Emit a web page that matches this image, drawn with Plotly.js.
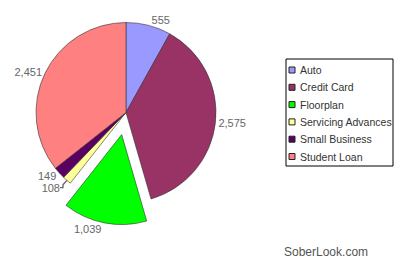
<!DOCTYPE html>
<html><head><meta charset="utf-8">
<script src="https://cdn.plot.ly/plotly-3.0.1.min.js"></script>
<style>body{margin:0;background:#fff}#c{width:400px;height:264px}</style>
</head><body><div id="c"></div>
<script>
const categories = ["Auto", "Credit Card", "Floorplan", "Servicing Advances", "Small Business", "Student Loan"];
const values = [555, 2575, 1039, 108, 149, 2451];
const colors = ["#9999FF", "#993366", "#00FF00", "#FFFF99", "#5A0060", "#FF8080"];
const pulls = [0, 0, 0.25, 0, 0, 0];

const W = 400, H = 264;
const px = x => x / W;
const py = y => 1 - y / H;
const FONT = "Liberation Sans, Arial, sans-serif";

const trace = {
  type: "pie",
  labels: categories,
  values: values,
  sort: false,
  direction: "clockwise",
  rotation: 0,
  pull: pulls,
  marker: {colors: colors, line: {color: "#333", width: 0.6}},
  texttemplate: "%{value:,}",
  textposition: "outside",
  outsidetextfont: {family: FONT, size: 11, color: "#666"},
  hoverinfo: "none",
  showlegend: false,
  domain: {x: [px(13.5), px(238.5)], y: [py(225), 1]}
};

// Legend box drawn from the categories / colors arrays
const shapes = [{
  type: "rect", xref: "paper", yref: "paper",
  x0: px(286), x1: px(393), y0: py(166), y1: py(59),
  line: {color: "#000", width: 1}, fillcolor: "#fff"
}];
const annotations = [];
const rowTop = 70, rowStep = 17.3;
categories.forEach((c, i) => {
  const yc = rowTop + i * rowStep;
  shapes.push({
    type: "rect", xref: "paper", yref: "paper",
    x0: px(289), x1: px(295), y0: py(yc + 3), y1: py(yc - 3),
    line: {color: "#222", width: 1}, fillcolor: colors[i]
  });
  annotations.push({
    text: c, x: px(298), y: py(yc), xref: "paper", yref: "paper",
    xanchor: "left", yanchor: "middle", showarrow: false,
    font: {family: FONT, size: 10.5, color: "#333"}
  });
});
annotations.push({
  text: "SoberLook.com", x: px(282), y: py(252), xref: "paper", yref: "paper",
  xanchor: "left", yanchor: "middle", showarrow: false,
  font: {family: FONT, size: 12, color: "#555"}
});

const layout = {
  width: W, height: H,
  margin: {l: 0, r: 0, t: 0, b: 0},
  paper_bgcolor: "#fff",
  showlegend: false,
  shapes: shapes,
  annotations: annotations
};
Plotly.newPlot("c", [trace], layout, {staticPlot: true});
</script></body></html>
